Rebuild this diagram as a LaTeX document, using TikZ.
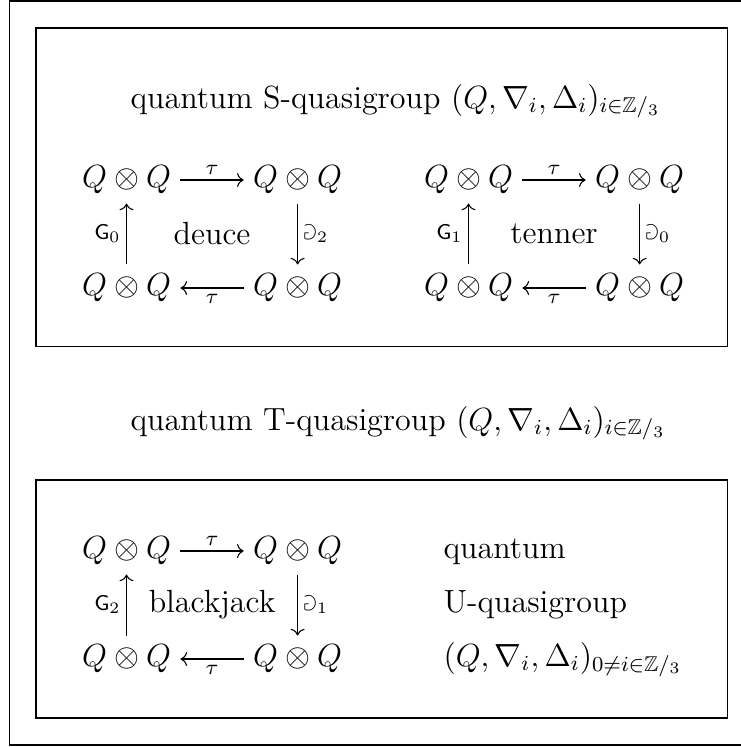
\documentclass[tikz,border=0pt]{standalone}
\usepackage{amssymb}
\usetikzlibrary{arrows.meta, positioning}

\begin{document}
\begin{tikzpicture}[
        x = 0.374pt, y = -0.374pt,
        node distance = 40.4pt and 64pt,
        on grid,
        >= {To},
        every node/.style = {font = \large},
        lbl/.style = {inner sep = 2pt},
        frame/.style = {draw, thin},
        side/.style = {anchor = base west, inner sep = 0pt}
    ]

    \useasboundingbox (0,0) rectangle (741,747);
    \draw[frame] (9.5,1) rectangle (760,745);
    \draw[frame] (36,28) rectangle (727.5,346.5);
    \draw[frame] (36,480) rectangle (727.5,718);

    % titles
    \node[side] (tS) at (130,108) {quantum S-quasigroup $(Q, \nabla_i, \Delta_i)_{i \in \mathbb{Z}/_3}$};
    \node[side] (tT) at (130,430) {quantum T-quasigroup $(Q, \nabla_i, \Delta_i)_{i \in \mathbb{Z}/_3}$};

    % deuce
    \node (d0) at (126.5,180) {$Q \otimes Q$};
    \node (d1) [right = of d0] {$Q \otimes Q$};
    \node (d2) [below = of d1] {$Q \otimes Q$};
    \node (d3) [below = of d0] {$Q \otimes Q$};
    \node (deuce) [below right = 20.2pt and 32pt of d0] {deuce};

    % tenner
    \node (t0) at (468.5,180) {$Q \otimes Q$};
    \node (t1) [right = of t0] {$Q \otimes Q$};
    \node (t2) [below = of t1] {$Q \otimes Q$};
    \node (t3) [below = of t0] {$Q \otimes Q$};
    \node (tenner) [below right = 20.2pt and 32pt of t0] {tenner};

    % blackjack
    \node (b0) at (126.5,551) {$Q \otimes Q$};
    \node (b1) [right = of b0] {$Q \otimes Q$};
    \node (b2) [below = of b1] {$Q \otimes Q$};
    \node (b3) [below = of b0] {$Q \otimes Q$};
    \node (blackjack) [below right = 20.2pt and 32pt of b0] {blackjack};

    \node[side] (u0) at (443,558) {quantum};
    \node[side] (u1) at (443,612) {U-quasigroup};
    \node[side] (u2) at (443,666) {$(Q, \nabla_i, \Delta_i)_{0 \neq i \in \mathbb{Z}/_3}$};

    \path[->]
        (d0) edge node [lbl, above] {$\scriptstyle\tau$} (d1)
        (d1) edge node [lbl, right] {$\scriptstyle\Game_2$} (d2)
        (d2) edge node [lbl, below] {$\scriptstyle\tau$} (d3)
        (d3) edge node [lbl, left] {$\scriptstyle\mathsf{G}_0$} (d0);

    \path[->]
        (t0) edge node [lbl, above] {$\scriptstyle\tau$} (t1)
        (t1) edge node [lbl, right] {$\scriptstyle\Game_0$} (t2)
        (t2) edge node [lbl, below] {$\scriptstyle\tau$} (t3)
        (t3) edge node [lbl, left] {$\scriptstyle\mathsf{G}_1$} (t0);

    \path[->]
        (b0) edge node [lbl, above] {$\scriptstyle\tau$} (b1)
        (b1) edge node [lbl, right] {$\scriptstyle\Game_1$} (b2)
        (b2) edge node [lbl, below] {$\scriptstyle\tau$} (b3)
        (b3) edge node [lbl, left] {$\scriptstyle\mathsf{G}_2$} (b0);
\end{tikzpicture}
\end{document}
